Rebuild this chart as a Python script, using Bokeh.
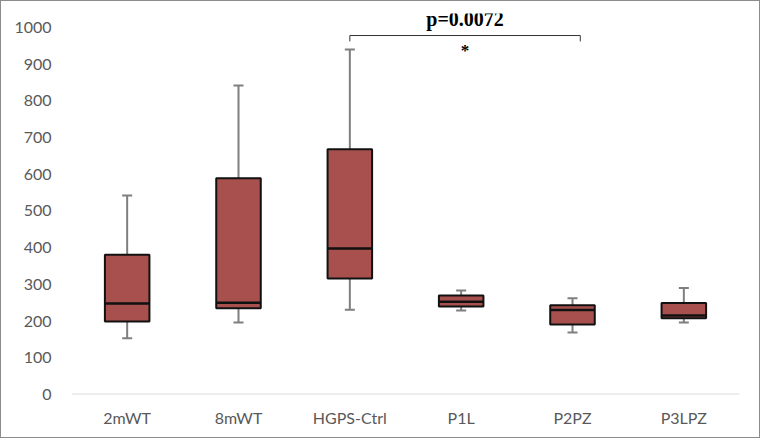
from bokeh.plotting import figure
from bokeh.models import FixedTicker, Range1d, Span
from bokeh.core.properties import value
from bokeh.embed import file_html
from bokeh.resources import INLINE

categories = ["2mWT", "8mWT", "HGPS-Ctrl", "P1L", "P2PZ", "P3LPZ"]
whisker_low = [153, 196, 231, 229, 169, 196]
q1 = [199, 235, 316, 240, 191, 208]
median = [248, 250, 398, 253, 230, 215]
q3 = [381, 589, 668, 270, 243, 249]
whisker_high = [542, 842, 940, 283, 262, 290]
y_ticks = [0, 100, 200, 300, 400, 500, 600, 700, 800, 900, 1000]

bracket_from = "HGPS-Ctrl"
bracket_to = "P2PZ"
bracket_y = 978
bracket_drop = 16
p_label = "p=0.0072"
p_label_y = 1022
star_label = "*"
star_y = 937

LABEL_COLOR = "#595959"
FONT = "Lato"

p = figure(width=760, height=438, x_range=Range1d(0, len(categories)),
           y_range=Range1d(0, 1038), output_backend="svg", toolbar_location=None,
           min_border_left=70, min_border_right=22, min_border_top=12, min_border_bottom=45)
p.styles = {"border": "1.5px solid #8c8c8c", "box-sizing": "border-box"}
p.outline_line_color = None
p.xgrid.visible = False
p.ygrid.visible = False

xs = [i + 0.5 for i in range(len(categories))]
bw = 0.4
cap = 0.045

# whiskers
p.segment(x0=xs, y0=q3, x1=xs, y1=whisker_high, line_color="#7f7f7f", line_width=2)
p.segment(x0=xs, y0=whisker_low, x1=xs, y1=q1, line_color="#7f7f7f", line_width=2)
p.segment(x0=[x - cap for x in xs], y0=whisker_high, x1=[x + cap for x in xs], y1=whisker_high,
          line_color="#7f7f7f", line_width=2)
p.segment(x0=[x - cap for x in xs], y0=whisker_low, x1=[x + cap for x in xs], y1=whisker_low,
          line_color="#7f7f7f", line_width=2)
# boxes
p.vbar(x=xs, width=bw, bottom=q1, top=q3, fill_color="#a8504e", line_color="#111111", line_width=2)
p.segment(x0=[x - bw / 2 for x in xs], y0=median, x1=[x + bw / 2 for x in xs], y1=median,
          line_color="#111111", line_width=2.5)

# zero baseline
p.add_layout(Span(location=0, dimension="width", line_color="#d9d9d9", line_width=2))

# significance bracket
xa = categories.index(bracket_from) + 0.5
xb = categories.index(bracket_to) + 0.5 + 0.07
p.line(x=[xa, xa, xb, xb], y=[bracket_y - bracket_drop, bracket_y, bracket_y, bracket_y - bracket_drop],
       line_color="#333333", line_width=1)
xm = (xa + xb) / 2
p.text(x=[xm], y=[p_label_y], text=[p_label], text_font=value("Liberation Serif"),
       text_font_style="bold", text_font_size="20px", text_align="center",
       text_baseline="alphabetic", text_color="#000000")
p.text(x=[xm], y=[star_y], text=[star_label], text_font=value("Liberation Serif"),
       text_font_style="bold", text_font_size="17px", text_align="center",
       text_baseline="middle", text_color="#000000")

# axes
p.xaxis.ticker = FixedTicker(ticks=xs)
p.xaxis.major_label_overrides = {x: c for x, c in zip(xs, categories)}
p.xaxis.axis_line_color = None
p.xaxis.major_tick_line_color = None
p.xaxis.minor_tick_line_color = None
p.xaxis.major_label_standoff = 7
p.xaxis.major_label_text_font = FONT
p.xaxis.major_label_text_font_size = "16px"
p.xaxis.major_label_text_color = LABEL_COLOR

p.yaxis.ticker = FixedTicker(ticks=y_ticks)
p.yaxis.axis_line_color = None
p.yaxis.major_tick_line_color = None
p.yaxis.minor_tick_line_color = None
p.yaxis.major_label_standoff = 14
p.yaxis.major_label_text_font = FONT
p.yaxis.major_label_text_font_size = "16px"
p.yaxis.major_label_text_color = LABEL_COLOR

open("out.html", "w").write(file_html(p, INLINE))
